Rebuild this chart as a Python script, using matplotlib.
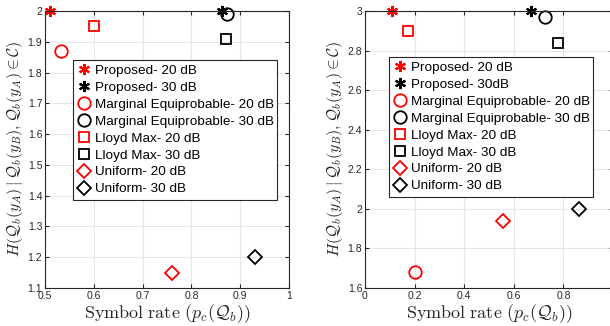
import matplotlib
matplotlib.use("Agg")
import matplotlib.pyplot as plt

plt.rcParams['font.family'] = ['Liberation Sans', 'DejaVu Sans']
plt.rcParams['mathtext.fontset'] = 'cm'

labels_left = ["Proposed- 20 dB", "Proposed- 30 dB",
               "Marginal Equiprobable- 20 dB", "Marginal Equiprobable- 30 dB",
               "Lloyd Max- 20 dB", "Lloyd Max- 30 dB",
               "Uniform- 20 dB", "Uniform- 30 dB"]
labels_right = ["Proposed- 20 dB", "Proposed- 30dB",
                "Marginal Equiprobable- 20 dB", "Marginal Equiprobable- 30 dB",
                "Lloyd Max- 20 dB", "Lloyd Max- 30 dB",
                "Uniform- 20 dB", "Uniform- 30 dB"]

# left panel values (symbol rate, entropy)
left_x = [0.51, 0.862, 0.532, 0.872, 0.601, 0.871, 0.76, 0.93]
left_y = [2.0, 2.0, 1.87, 1.99, 1.95, 1.91, 1.15, 1.20]
# right panel values
right_x = [0.108, 0.668, 0.20, 0.725, 0.172, 0.78, 0.555, 0.862]
right_y = [3.0, 3.0, 1.68, 2.97, 2.90, 2.84, 1.94, 2.00]

colors = ['#ff0000', 'black'] * 4
markers = ['*', '*', 'o', 'o', 's', 's', 'D', 'D']

fig = plt.figure(figsize=(6.10, 3.26), dpi=100)
ax1 = fig.add_axes([45/610, 1 - 288/326, 244/610, 277/326])
ax2 = fig.add_axes([365/610, 1 - 288/326, 248/610, 277/326])

def style(m):
    if m == '*':
        return dict(marker=(6, 2, 0), markersize=8, markeredgewidth=1.5)
    if m == 'o':
        return dict(marker='o', markersize=9, markerfacecolor='none', markeredgewidth=1.3)
    if m == 's':
        return dict(marker='s', markersize=7.5, markerfacecolor='none', markeredgewidth=1.3)
    return dict(marker='D', markersize=7.5, markerfacecolor='none', markeredgewidth=1.3)

def draw(ax, xs, ys, labs):
    for x, y, c, m, l in zip(xs, ys, colors, markers, labs):
        st = style(m)
        ax.plot([x], [y], linestyle='none', color=c, markeredgecolor=c, label=l, clip_on=False, **st)
    ax.grid(True, color='#e6e6e6', linewidth=0.8)
    ax.set_axisbelow(True)
    ax.tick_params(direction='in', top=True, right=True, labelsize=7.5, length=3, pad=2, colors='#262626')
    for s in ax.spines.values():
        s.set_color('#262626')
        s.set_linewidth(0.8)
    ax.set_xlabel(r'$\mathrm{Symbol\ rate}\ (p_c(\mathcal{Q}_b))$', fontsize=13, labelpad=1, color='#262626')
    ax.set_ylabel(r'$H(\mathcal{Q}_b(y_A)\mid\mathcal{Q}_b(y_B),\mathcal{Q}_b(y_A)\in\mathcal{C})$',
                  fontsize=11.5, labelpad=2, color='#262626')

draw(ax1, left_x, left_y, labels_left)
ax1.set_xlim(0.5, 1.0)
ax1.set_ylim(1.1, 2.0)
ax1.set_xticks([0.5, 0.6, 0.7, 0.8, 0.9, 1.0])
ax1.set_xticklabels(['0.5', '0.6', '0.7', '0.8', '0.9', '1'])
ax1.set_yticks([1.1, 1.2, 1.3, 1.4, 1.5, 1.6, 1.7, 1.8, 1.9, 2.0])
ax1.set_yticklabels(['1.1', '1.2', '1.3', '1.4', '1.5', '1.6', '1.7', '1.8', '1.9', '2'])

draw(ax2, right_x, right_y, labels_right)
ax2.set_xlim(0, 1.0)
ax2.set_ylim(1.6, 3.0)
ax2.set_xticks([0, 0.2, 0.4, 0.6, 0.8, 1.0])
ax2.set_xticklabels(['0', '0.2', '0.4', '0.6', '0.8', '1'])
ax2.set_yticks([1.6, 1.8, 2.0, 2.2, 2.4, 2.6, 2.8, 3.0])
ax2.set_yticklabels(['1.6', '1.8', '2', '2.2', '2.4', '2.6', '2.8', '3'])

for ax, bb in [(ax1, (73, 60, 204, 134)), (ax2, (389, 57, 204, 137))]:
    x0, y0, w, h = bb
    leg = ax.legend(loc='upper left',
                    bbox_to_anchor=(x0/610, 1 - (y0 + h)/326, w/610, h/326),
                    bbox_transform=fig.transFigure, mode='expand',
                    fontsize=9.7, frameon=True, fancybox=False, edgecolor='#262626',
                    framealpha=1, borderpad=0.35, labelspacing=0.33,
                    handlelength=1.0, handletextpad=0.3, borderaxespad=0)
    leg.get_frame().set_linewidth(0.8)

fig.savefig('out.png', dpi=100)
